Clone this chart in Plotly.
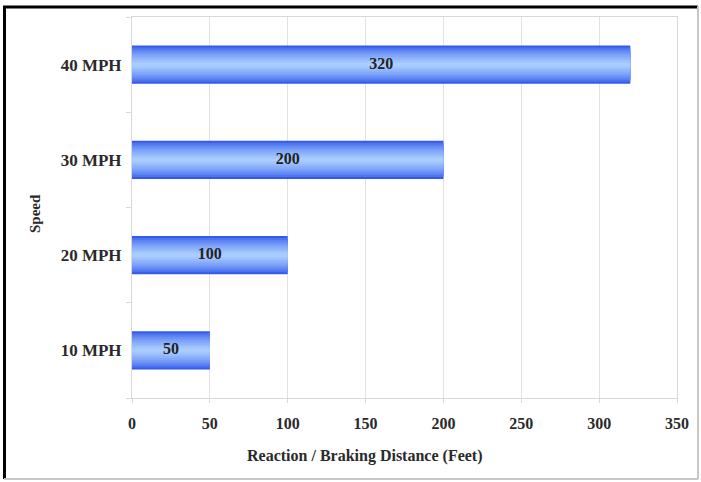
import plotly.graph_objects as go

categories = ["10 MPH", "20 MPH", "30 MPH", "40 MPH"]
distances = [50, 100, 200, 320]
x_ticks = [0, 50, 100, 150, 200, 250, 300, 350]
x_title = "Reaction / Braking Distance (Feet)"
y_title = "Speed"

FONT = "Liberation Serif"
edge = (52, 92, 236)
center = (170, 205, 255)
n_layers = 10
full_width = 0.4

fig = go.Figure()
for i in range(n_layers):
    t = i / (n_layers - 1)
    c = tuple(int(round(edge[k] + (center[k] - edge[k]) * t ** 0.7)) for k in range(3))
    w = full_width * (1 - i / n_layers)
    fig.add_trace(go.Bar(
        y=categories, x=distances, orientation="h",
        width=w, marker=dict(color="rgb(%d,%d,%d)" % c, line=dict(width=0)),
        hoverinfo="skip", showlegend=False,
    ))

fig.add_trace(go.Scatter(
    y=categories, x=[d / 2 for d in distances], mode="text",
    text=[str(d) for d in distances],
    textfont=dict(family=FONT, size=16, color="#222", weight="bold"),
    showlegend=False, hoverinfo="skip",
))

L, R, T, B = 132, 24, 17, 84
W, H = 701, 482
pw, ph = W - L - R, H - T - B

def px(xp):
    return (xp - L) / pw

def py(yp):
    return (H - B - yp) / ph

shapes = [
    dict(type="line", xref="paper", yref="paper", x0=px(3), x1=px(698), y0=py(7), y1=py(7),
         line=dict(color="black", width=3)),
    dict(type="line", xref="paper", yref="paper", x0=px(4.5), x1=px(4.5), y0=py(6), y1=py(479),
         line=dict(color="black", width=3)),
    dict(type="line", xref="paper", yref="paper", x0=px(698), x1=px(698), y0=py(6), y1=py(479),
         line=dict(color="#c8c8c8", width=2)),
    dict(type="line", xref="paper", yref="paper", x0=px(4), x1=px(698), y0=py(479), y1=py(479),
         line=dict(color="#c8c8c8", width=2)),
]

annotations = [
    dict(text=x_title, xref="paper", yref="paper", x=px(365), y=py(456),
         xanchor="center", yanchor="middle",
         showarrow=False, font=dict(family=FONT, size=16, color="#2a2a2a", weight="bold")),
    dict(text=y_title, xref="paper", yref="paper", x=px(35), y=py(214), textangle=-90,
         xanchor="center", yanchor="middle",
         showarrow=False, font=dict(family=FONT, size=15, color="#2a2a2a", weight="bold")),
]

fig.update_layout(
    width=W, height=H,
    margin=dict(l=L, r=R, t=T, b=B),
    barmode="overlay",
    paper_bgcolor="white", plot_bgcolor="white",
    shapes=shapes, annotations=annotations,
    showlegend=False,
)
fig.update_xaxes(
    range=[0, 350], tickvals=x_ticks, ticktext=[str(v) for v in x_ticks],
    showgrid=True, gridcolor="#e2e2e2", gridwidth=1,
    showline=True, linecolor="#d8d8d8", linewidth=1, mirror=True,
    ticks="outside", ticklen=4, tickcolor="#d8d8d8",
    tickfont=dict(family=FONT, size=16, color="#2a2a2a", weight="bold"),
    ticklabelstandoff=7,
    zeroline=False,
)
fig.update_yaxes(
    categoryorder="array", categoryarray=categories,
    showline=True, linecolor="#d8d8d8", linewidth=1, mirror=True,
    ticks="outside", ticklen=5, tickcolor="#d8d8d8", tickson="boundaries",
    showgrid=False,
    tickfont=dict(family=FONT, size=17, color="#2a2a2a", weight="bold"),
    ticklabelstandoff=6,
)

fig.write_html(
    "out.html",
    config={"displayModeBar": False},
    post_script="document.body.style.margin='0';document.body.style.overflow='hidden';",
)
